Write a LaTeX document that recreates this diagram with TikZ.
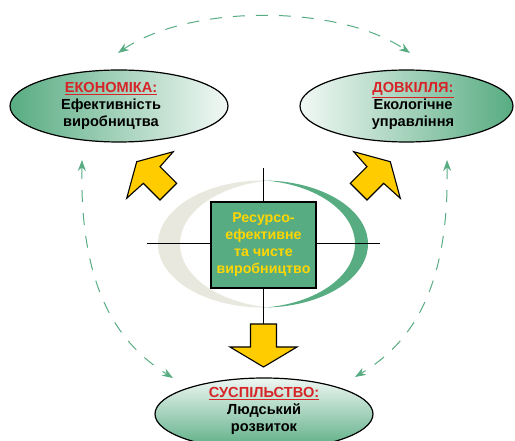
\documentclass[tikz,border=0pt]{standalone}
\usepackage{fontspec}
\setmainfont{Liberation Sans}
\usetikzlibrary{shapes.geometric,arrows.meta}
\definecolor{ecogreen}{RGB}{88,172,130}
\definecolor{crescgray}{RGB}{232,232,222}
\definecolor{arrowyellow}{RGB}{255,204,0}
\definecolor{textyellow}{RGB}{255,214,0}
\definecolor{labelred}{RGB}{214,36,40}
\tikzset{
  bubble/.style={ellipse, draw=black, line width=1.2pt, minimum width=218pt, minimum height=72pt, inner sep=0pt},
  bubbletext/.style={font=\fontsize{14.6}{17}\selectfont\bfseries, align=center},
  loopline/.style={ecogreen, line width=1pt, dash pattern=on 12pt off 11pt,
    {Stealth[length=11pt,width=8pt]}-{Stealth[length=11pt,width=8pt]}},
  fatarrow/.style={fill=arrowyellow, draw=black, line width=1.1pt, line join=miter},
}
\begin{document}
\begin{tikzpicture}[x=1pt,y=-1pt]
  \useasboundingbox (0,0) rectangle (515,441);
  \clip (0,0) rectangle (515,441);
  % dashed links between the three goals
  \coordinate (topL) at (118,53);
  \coordinate (topR) at (410,53);
  \coordinate (leftT) at (82,160);
  \coordinate (leftB) at (173,378);
  \coordinate (rightT) at (447,160);
  \coordinate (rightB) at (355,377);
  \draw[loopline] (topL) .. controls (190,4) and (338,4) .. (topR);
  \draw[loopline] (leftT) .. controls (80,280) and (112,340) .. (leftB);
  \draw[loopline] (rightT) .. controls (449,280) and (417,340) .. (rightB);
  % crescents
  \begin{scope}
    \clip (150,170) rectangle (268,320);
    \fill[crescgray, even odd rule] (263,244) ellipse [x radius=105, y radius=63.5]
      (284,244) ellipse [x radius=104, y radius=64];
  \end{scope}
  \begin{scope}
    \clip (262,170) rectangle (380,320);
    \fill[ecogreen, even odd rule] (263,244) ellipse [x radius=105, y radius=63.5]
      (252,244) ellipse [x radius=103, y radius=64];
  \end{scope}
  % cross
  \draw[line width=1pt] (263.5,168) -- (263.5,324);
  \draw[line width=1pt] (147,244) -- (380,244);
  \node[draw=black, line width=1.2pt, fill=ecogreen, minimum width=105pt, minimum height=86pt,
        text=textyellow, bubbletext, font=\fontsize{14.2}{17}\selectfont\bfseries]
        (core) at (263.5,245) {Ресурсо-\\ефективне\\та чисте\\виробництво};
  % yellow arrows
  \draw[fatarrow] (173.3,151.7) -- (136.7,161.7) -- (126.7,198.3) -- (143.3,183.3)
    -- (160,200) -- (176.7,183.3) -- (160,166.7) -- cycle;
  \draw[fatarrow] (353.7,151.7) -- (390.3,161.7) -- (400.3,198.3) -- (383.7,183.3)
    -- (367,200) -- (350.3,183.3) -- (367,166.7) -- cycle;
  \draw[fatarrow] (250.5,324) -- (276.5,324) -- (276.5,347) -- (297,347) -- (263.5,367)
    -- (230,347) -- (250.5,347) -- cycle;
  % goals
  \node[bubble, left color=ecogreen, right color=ecogreen!8] (econ) at (119,106) {};
  \node[bubble, minimum width=213pt, left color=ecogreen!8, right color=ecogreen] (env) at (406.5,106) {};
  \node[bubble, top color=ecogreen!10, bottom color=ecogreen] (soc) at (264,414) {};
  \node[bubbletext] (econtext) at ([xshift=-8pt]econ.center)
    {\textcolor{labelred}{\underline{ЕКОНОМІКА:}}\\Ефективність\\виробництва};
  \node[bubbletext] (envtext) at ([xshift=6.5pt]env.center)
    {\textcolor{labelred}{\underline{ДОВКІЛЛЯ:}}\\Екологічне\\управління};
  \node[bubbletext] (soctext) at ([yshift=3pt]soc.center)
    {\textcolor{labelred}{\underline{СУСПІЛЬСТВО:}}\\Людський\\розвиток};
\end{tikzpicture}
\end{document}
